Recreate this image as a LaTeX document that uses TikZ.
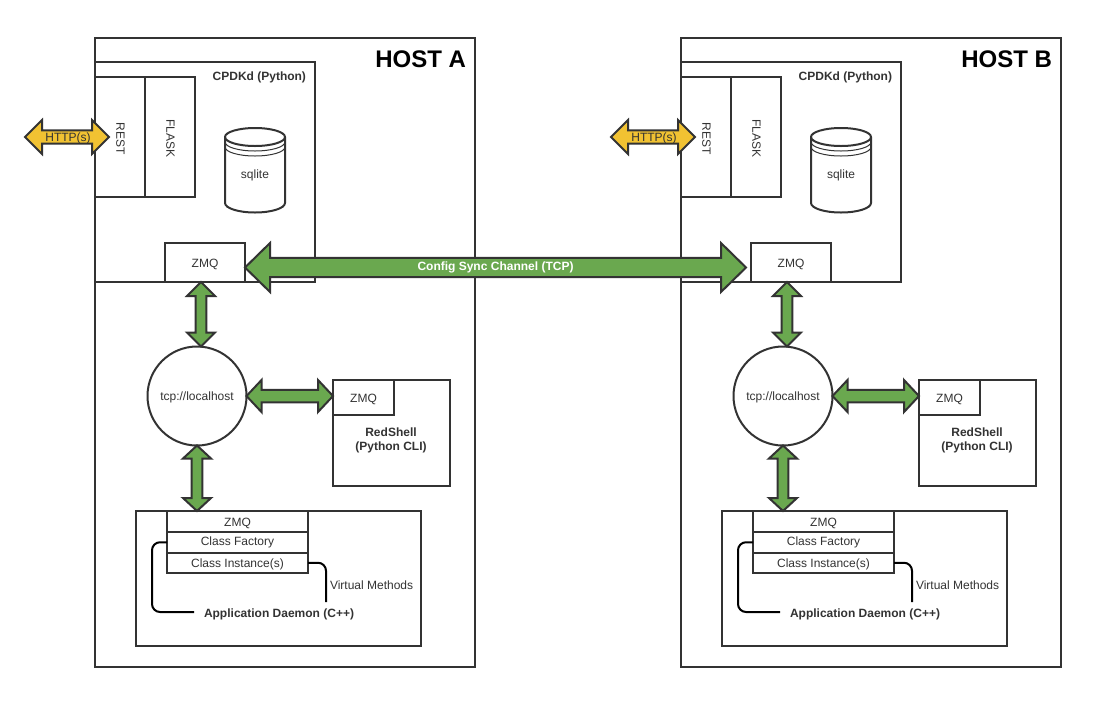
\documentclass[tikz,border=0pt]{standalone}
\usepackage{fontspec}
\setmainfont{Liberation Sans}
\usetikzlibrary{calc}
\definecolor{linegray}{HTML}{333333}
\definecolor{arrowgreen}{HTML}{6AA84F}
\definecolor{arrowyellow}{HTML}{F1C232}
\begin{document}
\begin{tikzpicture}
	[x=1pt,y=-1pt,line cap=butt,
	font=\fontsize{12}{14}\selectfont,text=linegray,
	%Styles
	box/.style={draw=linegray,line width=2pt,fill=white,inner sep=0pt,outer sep=0pt,anchor=north west},
	plain/.style={inner sep=0pt,outer sep=0pt,align=center},
	low text/.style={text height=9.6pt,text depth=0pt},
	bold label/.style={plain,font=\fontsize{12}{14}\selectfont\bfseries},
	block arrow/.style n args={3}{draw=linegray,line width=2pt,line join=miter,fill=#1,
		to path={
			-- ($(\tikztostart)!#2!(\tikztotarget)!#3!90:(\tikztotarget)$)
			-- ($(\tikztostart)!#2!(\tikztotarget)!.39*#3!90:(\tikztotarget)$)
			-- ($(\tikztotarget)!#2!(\tikztostart)!.39*#3!-90:(\tikztostart)$)
			-- ($(\tikztotarget)!#2!(\tikztostart)!#3!-90:(\tikztostart)$)
			-- (\tikztotarget)
			-- ($(\tikztotarget)!#2!(\tikztostart)!#3!90:(\tikztostart)$)
			-- ($(\tikztotarget)!#2!(\tikztostart)!.39*#3!90:(\tikztostart)$)
			-- ($(\tikztostart)!#2!(\tikztotarget)!.39*#3!-90:(\tikztotarget)$)
			-- ($(\tikztostart)!#2!(\tikztotarget)!#3!-90:(\tikztotarget)$)
			-- cycle}},
	link/.style={draw=black,line width=2pt,rounded corners=8pt}
	]

	\useasboundingbox (0,0) rectangle (1110,705);

	\foreach \h/\dx in {A/0,B/586} {
		\begin{scope}[xshift=\dx pt]
			%The host and the CPDKd process
			\node[box,minimum width=380pt,minimum height=629pt] (host\h) at (95,38) {};
			\node[box,minimum width=220pt,minimum height=220pt] (cpdk\h) at (95,62) {};
			\node[bold label,anchor=east,font=\fontsize{24}{28}\selectfont\bfseries,text=black] (title\h) at (466,59) {HOST \h};
			\node[bold label,anchor=east] (cpdkName\h) at (306,77) {CPDKd (Python)};
			\node[box,minimum width=50pt,minimum height=120pt] (rest\h) at (95,77) {};
			\node[box,minimum width=50pt,minimum height=120pt] (flask\h) at (145,77) {};
			\node[plain,rotate=-90] (restName\h) at (120.5,138.5) {REST};
			\node[plain,rotate=-90] (flaskName\h) at (170.5,138.5) {FLASK};
			\node[box,low text,minimum width=80pt,minimum height=39pt] (zmq\h) at (165,243) {ZMQ};

			%sqlite
			\draw[draw=linegray,line width=2pt,fill=white] (225,137) arc[x radius=30,y radius=9,start angle=180,end angle=360]
				-- (285,203) arc[x radius=30,y radius=9.5,start angle=0,end angle=180] -- cycle;
			\draw[draw=linegray,line width=2pt] (225,137) arc[x radius=30,y radius=9,start angle=180,end angle=0];
			\draw[draw=linegray,line width=1pt] (225,142) arc[x radius=30,y radius=9,start angle=180,end angle=0];
			\draw[draw=linegray,line width=1pt] (225,147) arc[x radius=30,y radius=9,start angle=180,end angle=0];
			\node[plain] (sqlite\h) at (255,175) {sqlite};

			%Local endpoints
			\node[draw=linegray,line width=2pt,fill=white,circle,inner sep=0pt,outer sep=0pt,minimum size=99pt,low text] (tcp\h) at (197,396) {tcp://localhost};
			\node[box,minimum width=117pt,minimum height=106pt] (red\h) at (333,380) {};
			\node[box,low text,minimum width=61pt,minimum height=35pt] (redZmq\h) at (333,380) {ZMQ};
			\node[bold label] (redName\h) at (391,440.5) {RedShell\\(Python CLI)};

			%The daemon
			\node[box,minimum width=285pt,minimum height=135pt] (app\h) at (136,511) {};
			\node[box,low text,minimum width=141pt,minimum height=21pt] (appZmq\h) at (167,511) {ZMQ};
			\node[box,minimum width=141pt,minimum height=20.5pt] (factory\h) at (167,532) {Class Factory};
			\node[box,low text,minimum width=141pt,minimum height=20.5pt] (instance\h) at (167,552.5) {Class Instance(s)};
			\node[bold label,anchor=west] (daemon\h) at (204,614) {Application Daemon (C++)};
			\node[plain,anchor=west] (virtual\h) at (330,585) {Virtual Methods};
			\coordinate (virtualEnd\h) at (326,602);
			\draw[link] (factory\h.west) -- ++(-15,0) |- ([xshift=-10pt,yshift=2pt]daemon\h.west);
			\draw[link] (instance\h.east) -| (virtualEnd\h);

			%Arrows
			\coordinate (clientEnd\h) at (25,137);
			\coordinate (restEnd\h) at (109,137);
			\draw[block arrow={arrowyellow}{17pt}{17pt}] (clientEnd\h) to (restEnd\h);
			\path (clientEnd\h) -- node[plain,xshift=1pt,low text] (http\h) {HTTP(s)} (restEnd\h);
			\draw[block arrow={arrowgreen}{14pt}{14pt}] ([xshift=-4pt]zmq\h.south) to ([xshift=4pt]tcp\h.north);
			\draw[block arrow={arrowgreen}{15pt}{16pt}] (tcp\h.east) to (tcp\h.east -| redZmq\h.west);
			\draw[block arrow={arrowgreen}{13pt}{14pt}] (tcp\h.south) to (tcp\h.south |- app\h.north);
		\end{scope}
	}

	%Sync channel
	\coordinate (syncLeft) at ([yshift=-5pt]zmqA.east);
	\coordinate (syncRight) at ([xshift=-5pt,yshift=-5pt]zmqB.west);
	\draw[block arrow={arrowgreen}{25pt}{24.5pt}] (syncLeft) to (syncRight);
	\path (syncLeft) -- node[bold label,text=white] (sync) {Config Sync Channel (TCP)} (syncRight);
\end{tikzpicture}
\end{document}
